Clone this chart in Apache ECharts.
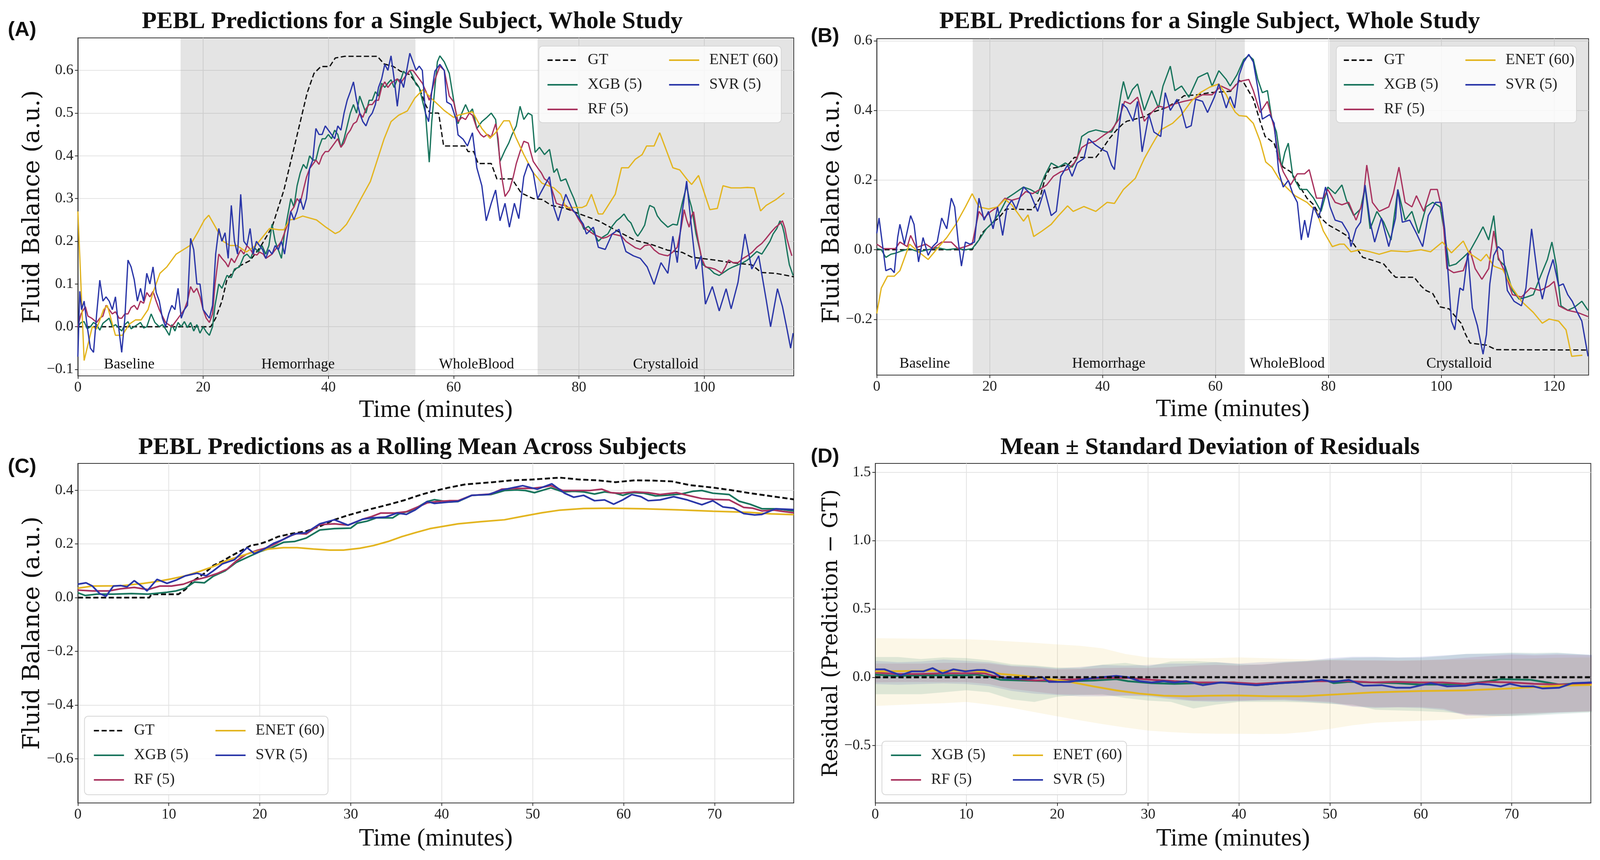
<!DOCTYPE html>
<html>
<head>
<meta charset="utf-8">
<title>PEBL predictions</title>
<script src="https://cdn.jsdelivr.net/npm/echarts@6/dist/echarts.min.js"></script>
<style>
  html, body { margin: 0; padding: 0; background: #fff; overflow: hidden; }
  #chart { width: 100vw; height: 100vh; }
</style>
</head>
<body>
<div id="chart"></div>
<script>
// ---------------- data ----------------
// (A) single subject, study 1
var aPhases = [['Baseline', 0, 16.4], ['Hemorrhage', 16.4, 53.9], ['WholeBlood', 53.9, 73.4], ['Crystalloid', 73.4, 114.3]];
var aXTicks = [0, 20, 40, 60, 80, 100];
var aYTicks = [-0.1, 0, 0.1, 0.2, 0.3, 0.4, 0.5, 0.6];
var aGt = [[0,0],[21.2,0],[22,0.02],[23,0.06],[23.8,0.11],[24.7,0.127],[25.5,0.14],[27.5,0.155],[29.1,0.186],[31,0.233],[32.9,0.32],[34.7,0.43],[36.6,0.547],[37.7,0.593],[38.8,0.609],[40.2,0.609],[41.1,0.629],[42.6,0.633],[47.8,0.633],[48.9,0.615],[50.4,0.609],[51.5,0.598],[53,0.59],[54.5,0.56],[55.5,0.52],[56.2,0.5],[57.6,0.5],[58.4,0.423],[61.8,0.423],[62.3,0.41],[63.2,0.41],[63.9,0.382],[66,0.382],[66.9,0.346],[69.3,0.346],[70.8,0.313],[72.7,0.3],[74.1,0.298],[75.6,0.284],[77.9,0.277],[80.1,0.264],[83.1,0.248],[86,0.225],[89,0.202],[91.3,0.194],[94.2,0.179],[96.5,0.174],[98,0.163],[101.7,0.156],[104.3,0.15],[107.6,0.145],[109.1,0.127],[111.4,0.125],[114.3,0.117]];
var aXgb = [[0,0],[0.5,0.01],[1,0.012],[1.5,-0.005],[2,0],[2.5,0.01],[3,0.005],[3.5,-0.008],[4,0.008],[5,0.02],[5.5,0],[6,0.005],[7,-0.01],[7.5,0.005],[8,0.012],[8.5,-0.005],[9,0],[10,0.01],[10.5,-0.003],[11,0],[11.7,0.03],[12.3,0.01],[13,0],[13.5,0.005],[14,-0.005],[14.6,-0.02],[15,0.005],[15.5,-0.01],[16,0.01],[16.5,0],[17,0.012],[17.5,-0.002],[18,0.01],[18.5,-0.01],[19,0.005],[19.5,-0.015],[20,0],[20.5,-0.012],[21,-0.02],[21.5,0],[21.9,0.05],[22.5,0.1],[23,0.09],[23.8,0.12],[24.5,0.115],[25,0.135],[25.8,0.14],[26.5,0.165],[27,0.17],[27.6,0.16],[28.2,0.185],[28.8,0.175],[29.4,0.19],[30,0.17],[30.5,0.19],[31,0.24],[31.5,0.2],[32,0.18],[32.5,0.16],[33,0.22],[33.5,0.26],[34,0.3],[34.5,0.28],[35,0.33],[35.5,0.36],[36,0.38],[36.5,0.37],[37,0.4],[37.5,0.39],[38,0.39],[38.5,0.42],[39,0.44],[39.5,0.44],[40,0.45],[40.5,0.44],[41,0.46],[41.5,0.45],[42,0.42],[42.5,0.44],[43,0.47],[43.5,0.5],[44,0.52],[44.5,0.5],[45,0.54],[45.5,0.52],[46,0.5],[46.5,0.53],[47,0.53],[47.5,0.55],[48,0.54],[48.5,0.57],[49,0.56],[49.5,0.57],[50,0.578],[50.5,0.56],[51,0.58],[51.5,0.575],[52,0.598],[52.5,0.59],[53,0.6],[53.5,0.585],[54,0.567],[54.5,0.56],[55,0.53],[55.5,0.5],[56.1,0.385],[56.5,0.48],[57,0.56],[57.4,0.62],[57.8,0.634],[58.5,0.62],[59.3,0.593],[60,0.53],[60.7,0.475],[61.3,0.5],[61.9,0.52],[62.5,0.5],[63,0.51],[63.7,0.464],[64.5,0.48],[65.3,0.49],[66,0.5],[66.7,0.485],[67.4,0.387],[68.2,0.413],[68.8,0.43],[69.3,0.449],[70,0.47],[70.6,0.516],[71.2,0.485],[71.9,0.5],[72.5,0.495],[73,0.408],[73.7,0.42],[74.5,0.403],[75.3,0.415],[76,0.361],[76.5,0.37],[77.1,0.341],[77.9,0.346],[78.6,0.32],[79.2,0.3],[79.7,0.279],[80.2,0.25],[80.8,0.228],[81.5,0.235],[82.3,0.222],[83.1,0.2],[83.8,0.21],[84.6,0.217],[85.3,0.235],[86,0.248],[86.6,0.255],[87.2,0.264],[87.8,0.25],[88.3,0.243],[89,0.22],[89.4,0.212],[90,0.225],[90.5,0.238],[91,0.27],[91.3,0.284],[92,0.279],[92.5,0.26],[93.1,0.248],[94.2,0.233],[95,0.24],[95.7,0.238],[96.5,0.29],[97.2,0.33],[97.6,0.3],[98,0.279],[98.7,0.217],[99.3,0.18],[99.8,0.145],[100.9,0.135],[101.6,0.125],[102.4,0.12],[103.2,0.128],[103.9,0.135],[104.6,0.14],[105.4,0.145],[106.2,0.15],[106.9,0.156],[107.6,0.165],[108.4,0.176],[109.2,0.17],[109.9,0.186],[110.5,0.2],[111,0.217],[111.6,0.23],[112.1,0.248],[112.5,0.235],[112.8,0.217],[113.3,0.17],[113.6,0.145],[114.2,0.12]];
var aRf = [[0,0],[0.5,0.03],[1.2,0.047],[1.6,0.025],[2.2,0.02],[3,0.01],[3.5,0.02],[4,0.025],[4.5,0.05],[5,0.04],[5.5,0.03],[6,0.035],[6.6,0.02],[7,0.02],[7.5,0.03],[8,0.03],[8.5,0.045],[9,0.05],[9.5,0.04],[10,0.06],[10.5,0.055],[11,0.08],[11.5,0.07],[12,0.083],[12.5,0.06],[13,0.04],[13.5,0.025],[14,0.01],[14.5,0.005],[15,0],[15.5,0.01],[16,0.02],[16.5,0.03],[17,0.04],[17.5,0.06],[18,0.094],[18.5,0.08],[19,0.09],[19.5,0.07],[20,0.04],[20.5,0.02],[21,0.01],[21.5,0.03],[21.9,0.1],[22.5,0.17],[23,0.16],[23.6,0.15],[24,0.14],[24.5,0.16],[25,0.15],[25.5,0.165],[26,0.18],[26.5,0.17],[27,0.19],[27.6,0.18],[28,0.17],[28.6,0.168],[29,0.175],[29.6,0.17],[30,0.16],[30.5,0.165],[31,0.17],[31.5,0.18],[32,0.19],[32.5,0.2],[33,0.22],[33.5,0.24],[34,0.27],[34.5,0.28],[35,0.3],[35.5,0.29],[36,0.32],[36.5,0.35],[37,0.37],[37.5,0.38],[38,0.39],[38.5,0.38],[39,0.4],[39.5,0.41],[40,0.41],[40.5,0.42],[41,0.43],[41.5,0.44],[42,0.42],[42.5,0.43],[43,0.45],[43.5,0.46],[44,0.475],[44.5,0.48],[45,0.5],[45.5,0.49],[46,0.51],[46.5,0.52],[47,0.52],[47.5,0.53],[48,0.53],[48.5,0.56],[49,0.573],[49.5,0.56],[50,0.57],[50.5,0.575],[51,0.58],[51.5,0.57],[52,0.58],[52.5,0.59],[53,0.6],[53.5,0.6],[54,0.59],[54.5,0.58],[55,0.57],[55.6,0.55],[56.1,0.53],[56.5,0.55],[57,0.578],[57.8,0.61],[58.5,0.6],[59.3,0.54],[60,0.526],[60.7,0.48],[61.3,0.49],[61.9,0.485],[62.5,0.5],[63,0.495],[63.7,0.464],[64.3,0.45],[64.8,0.444],[65.4,0.45],[66,0.444],[66.7,0.475],[67.1,0.44],[67.4,0.382],[67.8,0.34],[68.2,0.305],[68.9,0.32],[69.5,0.35],[70,0.382],[70.6,0.41],[71.2,0.434],[71.9,0.43],[72.7,0.387],[73.4,0.372],[74,0.36],[74.5,0.346],[75.1,0.34],[75.6,0.325],[76.4,0.289],[77.1,0.285],[77.9,0.284],[78.6,0.275],[79.3,0.269],[80,0.25],[80.8,0.233],[81.5,0.225],[82.3,0.217],[83,0.212],[83.8,0.207],[84.5,0.21],[85.3,0.217],[86,0.215],[86.8,0.212],[87.5,0.2],[88.3,0.192],[89,0.185],[89.8,0.181],[90.5,0.19],[91.3,0.192],[92,0.18],[92.8,0.171],[93.5,0.168],[94.2,0.166],[95,0.175],[95.7,0.186],[96.3,0.23],[96.8,0.274],[97.2,0.25],[97.6,0.233],[98,0.26],[98.3,0.269],[98.7,0.23],[99.1,0.197],[99.6,0.16],[100.2,0.14],[101,0.138],[101.7,0.135],[102.3,0.13],[102.8,0.125],[103.4,0.14],[103.9,0.156],[104.6,0.15],[105.4,0.15],[106.2,0.16],[106.9,0.166],[107.7,0.175],[108.4,0.186],[109.2,0.195],[109.9,0.207],[110.6,0.22],[111.4,0.233],[112,0.24],[112.5,0.248],[112.9,0.23],[113.2,0.207],[113.6,0.185],[114,0.166]];
var aEnet = [[0,0.27],[1,-0.079],[2.3,0],[3,-0.005],[4.1,0.04],[4.7,0.05],[6,-0.02],[7.1,-0.02],[8.2,0.006],[9.2,0.016],[10.1,0.016],[11.2,0.04],[12,0.08],[13.1,0.125],[14.2,0.14],[15.7,0.17],[16.8,0.18],[17.9,0.19],[19.1,0.22],[20.2,0.25],[20.9,0.261],[22.1,0.23],[23.2,0.2],[24.3,0.19],[25.4,0.19],[26.9,0.175],[28.4,0.19],[29.5,0.21],[30.6,0.23],[32.1,0.227],[32.9,0.227],[33.8,0.25],[34.7,0.252],[35.9,0.259],[38.1,0.25],[39.6,0.233],[41.1,0.218],[41.8,0.223],[42.9,0.24],[44.1,0.27],[45.2,0.3],[46.7,0.34],[47.8,0.39],[48.9,0.44],[50,0.48],[51.2,0.495],[52.6,0.505],[53.8,0.535],[55.1,0.555],[56.4,0.535],[57.5,0.52],[58.5,0.506],[60,0.49],[60.7,0.495],[63,0.503],[64.5,0.464],[65.8,0.441],[66.7,0.454],[68,0.482],[68.9,0.482],[69.9,0.444],[71.2,0.403],[72.7,0.361],[74.1,0.336],[76,0.325],[77.1,0.31],[77.9,0.279],[79,0.279],[80.5,0.279],[81.2,0.284],[82,0.31],[83.1,0.264],[83.8,0.264],[85.8,0.31],[86.8,0.372],[87.9,0.372],[89,0.392],[90.1,0.403],[90.8,0.423],[92,0.423],[92.9,0.454],[95,0.372],[96.1,0.367],[97.2,0.346],[98,0.333],[99.1,0.354],[100.9,0.274],[102.1,0.277],[103,0.33],[104.3,0.325],[105.8,0.325],[106.9,0.326],[108,0.325],[109,0.271],[109.9,0.284],[111.4,0.297],[112.8,0.313]];
var aSvr = [[0,-0.07],[0.3,0.083],[0.6,0.04],[1,0.06],[1.5,0],[2,-0.05],[2.5,-0.06],[3,0.03],[3.5,0.109],[4,0.06],[4.5,0.07],[5,0.06],[5.5,0.04],[6,0.07],[6.5,0],[7,-0.06],[7.5,0.02],[8,0.156],[8.5,0.14],[9,0.11],[9.5,0.06],[10,0.09],[10.5,0.06],[11,0.125],[11.5,0.1],[12,0.14],[12.5,0.08],[13,0.06],[13.5,0.02],[14,0],[14.5,0.03],[15,0.05],[15.5,0.04],[16,0.09],[16.5,0.02],[17,0.04],[17.5,0.05],[18,0.207],[18.5,0.18],[19,0.1],[19.5,0.1],[20,0.04],[20.5,0.03],[21,0.02],[21.5,0.05],[22,0.17],[22.5,0.23],[23,0.2],[23.5,0.22],[24,0.16],[24.5,0.284],[25,0.2],[25.5,0.17],[26,0.31],[26.5,0.2],[27,0.19],[27.5,0.23],[28,0.17],[28.5,0.2],[29,0.19],[29.5,0.18],[30,0.16],[30.5,0.18],[31,0.17],[31.5,0.19],[32,0.18],[32.5,0.2],[33,0.17],[33.5,0.22],[34,0.27],[34.5,0.25],[35,0.27],[35.5,0.3],[36,0.274],[36.5,0.3],[37,0.37],[37.5,0.39],[38,0.464],[38.5,0.45],[39,0.45],[39.5,0.47],[40,0.46],[40.5,0.45],[41,0.44],[41.5,0.47],[42,0.46],[42.5,0.5],[43,0.53],[43.5,0.55],[44,0.573],[44.5,0.53],[45,0.5],[45.5,0.48],[46,0.47],[46.5,0.49],[47,0.5],[47.5,0.52],[48,0.56],[48.5,0.58],[49,0.614],[49.5,0.6],[50,0.634],[50.5,0.58],[51,0.516],[51.5,0.58],[52,0.56],[52.5,0.6],[53,0.64],[53.5,0.62],[54,0.6],[54.5,0.61],[55,0.6],[55.5,0.5],[56,0.48],[56.5,0.55],[57,0.598],[57.8,0.614],[58.5,0.6],[58.9,0.526],[59.6,0.52],[60.4,0.485],[60.7,0.449],[61.5,0.439],[62.2,0.423],[63,0.454],[63.7,0.372],[64.5,0.33],[65.2,0.248],[66,0.289],[66.7,0.32],[67.4,0.248],[68.2,0.289],[68.9,0.233],[69.7,0.289],[70.4,0.253],[71.2,0.351],[71.9,0.382],[72.7,0.36],[73.4,0.3],[74.5,0.33],[75.3,0.351],[76,0.279],[76.7,0.248],[77.3,0.28],[77.9,0.31],[78.5,0.29],[79,0.274],[80.1,0.253],[80.7,0.24],[81.2,0.217],[82.3,0.233],[83.1,0.186],[84.2,0.181],[85.3,0.217],[86.4,0.228],[87.5,0.176],[88.7,0.166],[89.8,0.16],[90.9,0.14],[92,0.099],[93.1,0.15],[94.2,0.125],[95,0.212],[95.7,0.15],[96.5,0.269],[97.2,0.341],[98,0.228],[98.7,0.135],[99.5,0.166],[100.2,0.053],[101.3,0.094],[102.4,0.037],[103.5,0.089],[104.3,0.042],[105.4,0.104],[106.5,0.217],[107.6,0.135],[108.7,0.166],[109.9,0.063],[110.6,0],[111.7,0.089],[112.5,0.047],[113.2,-0.004],[113.8,-0.05],[114.2,-0.015]];

// (B) single subject, study 2
var bPhases = [['Baseline', 0, 17.0], ['Hemorrhage', 17.0, 65.2], ['WholeBlood', 65.2, 80.2], ['Crystalloid', 80.2, 126.1]];
var bXTicks = [0, 20, 40, 60, 80, 100, 120];
var bYTicks = [-0.2, 0, 0.2, 0.4, 0.6];
var bGt = [[0,0],[16.9,0],[17.5,0.015],[18.1,0.028],[18.6,0.047],[19.4,0.06],[20.6,0.079],[21.6,0.091],[22.9,0.117],[27.6,0.115],[28.9,0.148],[29.9,0.211],[30.7,0.233],[32.2,0.237],[34,0.246],[35,0.265],[38.8,0.265],[39.6,0.281],[41.2,0.319],[42.5,0.344],[43.5,0.36],[44.3,0.369],[47.4,0.382],[48.7,0.394],[51.1,0.407],[53.2,0.426],[54.4,0.442],[56.9,0.445],[59,0.451],[62.7,0.455],[64.2,0.486],[65,0.48],[66.7,0.433],[67.9,0.369],[68.8,0.325],[70.4,0.306],[71.2,0.262],[72,0.237],[73.3,0.224],[75,0.18],[76.2,0.148],[77.4,0.129],[78.7,0.091],[79.9,0.072],[82,0.053],[83.2,0.041],[84.5,0.016],[86.1,-0.022],[88.2,-0.032],[89.8,-0.041],[91.1,-0.066],[91.9,-0.079],[95.2,-0.079],[96.4,-0.104],[97.3,-0.117],[98.5,-0.126],[99.8,-0.164],[101.4,-0.17],[102.2,-0.186],[103.5,-0.211],[104.3,-0.243],[105.1,-0.268],[108,-0.274],[109.7,-0.287],[126.1,-0.288]];
var bXgb = [[0,0.003],[0.8,0],[1.6,-0.022],[2.5,-0.013],[3.3,-0.01],[4.5,-0.003],[5.8,0.003],[7.4,-0.006],[9.1,0],[10.7,0.006],[12.4,0],[14,0.003],[15.7,0],[16.9,0.003],[18.1,0.028],[19.4,0.06],[20.6,0.079],[21.9,0.11],[23.1,0.148],[24.3,0.161],[26,0.18],[27.2,0.173],[28.5,0.161],[29.7,0.211],[30.9,0.249],[32.2,0.237],[33.4,0.249],[34.6,0.237],[35.5,0.262],[36.3,0.325],[37.5,0.338],[38.8,0.344],[40.4,0.338],[41.6,0.338],[42.5,0.369],[43.3,0.451],[43.7,0.483],[44.5,0.432],[45.3,0.46],[46.2,0.476],[47.4,0.4],[48.7,0.457],[49.9,0.407],[50.7,0.47],[52,0.527],[52.8,0.457],[54,0.47],[55.3,0.438],[56.9,0.495],[58.6,0.508],[59.4,0.47],[60.6,0.514],[61.9,0.489],[62.6,0.47],[63.8,0.502],[65,0.546],[65.9,0.558],[66.7,0.546],[67.5,0.489],[68.3,0.451],[69.2,0.457],[70,0.375],[70.8,0.338],[71.7,0.237],[72.3,0.28],[72.9,0.306],[73.7,0.211],[75,0.173],[76.2,0.173],[77.4,0.148],[78.7,0.11],[79.9,0.18],[81.2,0.161],[82.4,0.186],[83.2,0.142],[84.5,0.098],[85.7,0.117],[86.5,0.18],[87.4,0.06],[88.6,0.11],[89.8,0.079],[91.1,0.028],[92.3,0.173],[93.6,0.085],[94.8,0.11],[96,0.047],[97.3,0.123],[98.5,0.136],[99.8,0.123],[100.6,0.047],[101.4,-0.047],[102.6,-0.041],[103.9,-0.022],[105.1,-0.003],[106.4,0.035],[107.4,0.066],[108.4,0.028],[109.3,0.098],[110.1,-0.028],[111.3,-0.047],[112.6,-0.117],[113.8,-0.142],[115.1,-0.136],[116.3,-0.129],[117.5,-0.079],[118.8,-0.028],[119.6,0.022],[120.4,-0.047],[121.2,-0.161],[122.4,-0.174],[123.6,-0.165],[124.9,-0.148],[126,-0.174]];
var bRf = [[0,0.016],[1.2,0.003],[3.3,0.003],[4.1,0.022],[5.4,0.009],[6,0.041],[7,0.006],[8.7,0.016],[9.9,0.003],[11.5,0.022],[13.2,0.022],[14.4,0.003],[15.7,0.009],[16.9,0.016],[18.1,0.11],[19,0.091],[20.2,0.11],[21.4,0.123],[22.7,0.148],[23.9,0.142],[25.2,0.148],[26.4,0.167],[27.6,0.161],[28.9,0.173],[30.1,0.186],[31.3,0.211],[32.6,0.224],[33.8,0.23],[35,0.249],[36.3,0.293],[37.5,0.306],[38.8,0.312],[40.4,0.331],[41.6,0.344],[42.9,0.375],[43.9,0.426],[44.9,0.419],[46.2,0.438],[47.4,0.369],[48.7,0.394],[49.9,0.413],[51.1,0.407],[52.8,0.419],[54.4,0.426],[56.1,0.432],[57.7,0.445],[59.4,0.445],[61,0.47],[62.7,0.457],[64.2,0.483],[65.9,0.489],[66.7,0.457],[67.9,0.394],[69.2,0.426],[70.4,0.35],[71.2,0.262],[72,0.224],[73.3,0.186],[74.5,0.218],[75.8,0.218],[76.6,0.23],[77.9,0.148],[79.1,0.148],[79.9,0.173],[81.2,0.136],[82.4,0.129],[83.6,0.136],[84.9,0.085],[86.1,0.136],[86.8,0.243],[87.8,0.136],[89,0.11],[90.7,0.123],[91.5,0.161],[92.5,0.237],[93.6,0.136],[94.8,0.123],[95.6,0.155],[96.9,0.11],[98.1,0.173],[99.3,0.173],[100.2,0.11],[101,-0.054],[102.2,-0.066],[103.9,-0.06],[105.1,-0.003],[106,-0.054],[107.2,-0.085],[108.4,-0.054],[109.3,0.054],[110.1,-0.022],[111.3,-0.066],[112.6,-0.129],[114.2,-0.136],[115.8,-0.11],[117.5,-0.117],[119.1,-0.104],[120,-0.091],[120.8,-0.161],[122.4,-0.174],[124.1,-0.18],[126,-0.192]];
var bEnet = [[0,-0.183],[0.8,-0.11],[1.9,-0.076],[3.1,-0.076],[4.1,-0.06],[5.8,0.016],[7.4,-0.006],[9.1,-0.028],[10.7,0.003],[12.4,0.035],[14,0.073],[15.7,0.123],[16.9,0.161],[18.1,0.123],[19.8,0.117],[21.4,0.123],[22.7,0.145],[23.9,0.129],[26,0.082],[26.8,0.1],[27.8,0.038],[29.3,0.054],[30.9,0.073],[32.2,0.098],[33.8,0.126],[34.8,0.11],[36.7,0.124],[38.8,0.11],[40.8,0.136],[42.1,0.133],[43.7,0.173],[45.8,0.205],[47.4,0.262],[48.7,0.3],[50.3,0.344],[52.4,0.363],[54,0.388],[55.7,0.426],[57.3,0.451],[59,0.467],[60.6,0.476],[61.9,0.445],[62.6,0.42],[63.5,0.395],[64.2,0.385],[65.5,0.383],[66.7,0.363],[67.9,0.312],[68.9,0.252],[70,0.237],[71.2,0.205],[72.5,0.18],[74.1,0.155],[76.2,0.136],[77.9,0.11],[79.1,0.054],[80.7,0.009],[82,0.016],[82.8,0.016],[84,-0.006],[85.7,0],[87.4,-0.006],[89,-0.013],[91.1,-0.003],[93.9,-0.006],[96.4,0],[98.1,-0.006],[100.2,0.022],[101.8,-0.009],[103.9,0.025],[104.9,-0.009],[107,-0.032],[108,-0.013],[109.3,-0.047],[110.9,-0.057],[112.6,-0.11],[114.2,-0.148],[116.3,-0.18],[117.9,-0.211],[119.1,-0.199],[120.8,-0.205],[122.1,-0.23],[123.1,-0.306],[125,-0.303]];
var bSvr = [[0,0.047],[0.4,0.091],[1,0.016],[1.6,-0.06],[2.5,-0.054],[3.1,-0.066],[3.7,0.035],[4.1,0.073],[4.9,0.016],[6,0.098],[6.6,0.073],[7.4,-0.035],[8.2,0.035],[9.1,-0.016],[9.9,0.009],[10.7,0.022],[11.5,0.091],[12.4,0.06],[13.2,0.148],[13.8,0.123],[14.4,0.028],[15,-0.047],[15.7,0.022],[16.5,0.016],[17.3,0.022],[18.1,0.148],[19,0.085],[19.8,0.11],[20.6,0.06],[21.4,0.123],[22.3,0.041],[23.1,0.123],[23.9,0.142],[24.7,0.117],[26,0.18],[27.2,0.161],[28.5,0.11],[29.7,0.173],[30.9,0.098],[31.8,0.11],[32.6,0.211],[33.8,0.243],[34.6,0.211],[35.5,0.249],[36.7,0.262],[37.5,0.319],[38.8,0.3],[40,0.287],[40.8,0.281],[41.6,0.243],[42.1,0.23],[42.9,0.35],[43.5,0.419],[44.3,0.407],[45.4,0.369],[46.2,0.426],[47,0.281],[48.2,0.388],[49.1,0.338],[50.3,0.325],[51.1,0.451],[52,0.4],[53.2,0.432],[54,0.4],[54.8,0.35],[55.7,0.356],[56.5,0.432],[57.7,0.426],[58.6,0.394],[59.8,0.438],[60.6,0.476],[61.9,0.407],[62.6,0.44],[63.4,0.407],[64.2,0.502],[65,0.539],[65.9,0.561],[66.7,0.539],[67.5,0.464],[68.3,0.375],[69.6,0.388],[70.4,0.363],[71.2,0.224],[72,0.18],[72.9,0.199],[73.7,0.161],[74.5,0.136],[75.2,0.028],[75.8,0.085],[76.4,0.035],[77.4,0.123],[78.3,0.091],[79.5,0.18],[80.3,0.123],[81.2,0.085],[82.4,0.079],[83.6,0.047],[84,0.009],[84.9,0.06],[85.7,0.079],[86.5,0.186],[87.4,0.079],[88.2,0.022],[89.4,0.091],[90.7,0.009],[91.9,0.091],[92.3,0.173],[93.1,0.079],[94.4,0.085],[95.6,0.047],[96.7,0.009],[97.7,0.098],[99,0.136],[100,0.136],[100.6,0.06],[101.2,-0.066],[101.8,-0.205],[102.4,-0.23],[103.3,-0.11],[103.9,-0.117],[104.7,-0.009],[105.5,-0.167],[106.4,-0.218],[107.4,-0.3],[108,-0.243],[108.6,-0.098],[109.3,-0.016],[110.1,0.009],[110.9,-0.003],[111.7,-0.117],[112.9,-0.148],[114.2,-0.161],[115,-0.11],[116,0.06],[117.1,-0.079],[117.9,-0.142],[118.8,-0.079],[119.8,-0.028],[120.8,-0.104],[121.6,-0.098],[122.4,-0.129],[123.2,-0.148],[124.1,-0.18],[124.9,-0.205],[126,-0.306]];

// (C) rolling mean across subjects
var cXTicks = [0, 10, 20, 30, 40, 50, 60, 70];
var cYTicks = [-0.6, -0.4, -0.2, 0, 0.2, 0.4];
var cGt = [[0,0],[7.85,0],[8.1,0.0126],[11.05,0.0126],[11.8,0.03],[12.8,0.065],[13.9,0.09],[14.9,0.12],[15.9,0.136],[16.9,0.156],[18,0.176],[19,0.194],[20,0.2],[21,0.212],[22,0.227],[23.6,0.239],[25.1,0.247],[26.7,0.267],[28.2,0.29],[29.7,0.307],[31.3,0.322],[32.8,0.335],[34.3,0.348],[35.9,0.363],[37.4,0.38],[38.9,0.395],[40.8,0.41],[42.6,0.422],[45.6,0.43],[47.7,0.437],[50,0.44],[53,0.447],[55.1,0.44],[57.1,0.437],[59.1,0.43],[61.2,0.437],[63.2,0.436],[65.3,0.433],[67.3,0.419],[69.8,0.41],[71.9,0.4],[73.9,0.389],[76,0.379],[78.7,0.366]];
var cXgb = [[0,0.018],[0.8,0.008],[2.1,0.013],[3.9,0.013],[5.9,0.015],[7.7,0.013],[9.8,0.02],[10.8,0.025],[11.8,0.035],[12.8,0.058],[13.9,0.055],[14.9,0.08],[16.2,0.1],[17.4,0.131],[19,0.156],[20,0.171],[21.3,0.186],[22.6,0.206],[23.8,0.209],[25.1,0.222],[26.6,0.252],[28.2,0.257],[30,0.259],[30.7,0.277],[31.8,0.285],[32.8,0.297],[34.6,0.297],[35.3,0.312],[36.4,0.322],[37.4,0.338],[38.4,0.358],[39.2,0.365],[40.8,0.356],[41.8,0.358],[43.3,0.381],[45.4,0.384],[46.9,0.399],[48.2,0.401],[49.2,0.399],[50.2,0.391],[51.2,0.401],[52,0.409],[53.3,0.394],[54.5,0.396],[55.6,0.394],[56.8,0.386],[57.9,0.394],[59.1,0.389],[59.9,0.381],[60.9,0.391],[62.2,0.389],[63.5,0.379],[64.7,0.381],[66.3,0.386],[67.6,0.396],[68.6,0.399],[69.8,0.389],[71.6,0.384],[72.7,0.359],[73.9,0.348],[75.2,0.331],[76.5,0.331],[77.5,0.328],[78.7,0.323]];
var cRf = [[0,0.028],[1.6,0.025],[3.4,0.025],[4.7,0.033],[6.2,0.038],[7.7,0.03],[9,0.043],[10.3,0.043],[11.6,0.05],[12.8,0.065],[14.1,0.076],[15.4,0.091],[16.4,0.106],[17.4,0.136],[18.5,0.161],[19.7,0.176],[20.8,0.186],[21.8,0.202],[23.1,0.227],[24.1,0.239],[25.1,0.237],[26.6,0.272],[28.2,0.275],[29.7,0.27],[31.3,0.292],[32.3,0.302],[33.3,0.315],[34.8,0.315],[36.1,0.32],[37.4,0.338],[38.4,0.353],[39.4,0.358],[40.8,0.361],[41.8,0.361],[43.3,0.381],[45.4,0.386],[46.6,0.404],[48.4,0.407],[49.9,0.407],[51.2,0.412],[52,0.417],[53.3,0.399],[55,0.399],[56.3,0.399],[57.6,0.404],[58.6,0.391],[59.6,0.389],[61.2,0.394],[62.7,0.391],[64,0.384],[65.8,0.391],[67.3,0.379],[68.6,0.369],[69.8,0.366],[71.6,0.364],[73.2,0.336],[74.2,0.333],[75.2,0.323],[76.5,0.326],[77.5,0.321],[78.7,0.316]];
var cEnet = [[0,0.035],[1.6,0.043],[4.7,0.044],[7.2,0.053],[8.7,0.06],[10.3,0.07],[11.8,0.081],[13.4,0.098],[14.9,0.116],[16.4,0.139],[18,0.156],[19.5,0.171],[21,0.181],[22.6,0.186],[24.1,0.186],[25.9,0.181],[27.7,0.177],[29.2,0.177],[31,0.184],[32.5,0.194],[34.1,0.209],[35.6,0.227],[37.1,0.242],[38.7,0.257],[41.8,0.275],[44.3,0.283],[46.9,0.29],[48.9,0.303],[51,0.316],[53,0.326],[55.6,0.332],[58.6,0.333],[62.2,0.331],[66,0.327],[69.8,0.322],[73.7,0.318],[76.2,0.312],[78.7,0.309]];
var cSvr = [[0,0.05],[0.9,0.055],[1.6,0.043],[2.4,0.015],[3.1,0.005],[3.9,0.043],[4.7,0.045],[5.4,0.04],[6.2,0.063],[7,0.043],[7.6,0.025],[8.7,0.068],[9.8,0.053],[10.8,0.065],[11.8,0.081],[13.1,0.091],[14.1,0.081],[14.9,0.1],[15.9,0.126],[17.2,0.141],[18.6,0.186],[19.4,0.164],[20.5,0.181],[21.5,0.202],[22.6,0.217],[23.8,0.237],[25.1,0.242],[26.6,0.275],[28.2,0.29],[29.7,0.27],[31.3,0.292],[32.3,0.297],[33.8,0.3],[35.1,0.315],[36.1,0.31],[37.1,0.327],[38.4,0.358],[39.2,0.351],[40.8,0.356],[41.8,0.359],[43.3,0.381],[45.1,0.384],[46.6,0.401],[48.9,0.417],[50.5,0.404],[52.1,0.424],[53.5,0.389],[54.5,0.374],[55.6,0.381],[56.8,0.361],[57.9,0.364],[58.9,0.348],[59.9,0.364],[60.9,0.384],[61.9,0.376],[62.7,0.361],[64,0.364],[65.5,0.376],[67,0.364],[68.6,0.346],[69.8,0.361],[70.9,0.338],[72.1,0.333],[73.2,0.313],[74.4,0.308],[75.2,0.31],[76.7,0.331],[78.7,0.328]];

// (D) residual mean and +/- one standard deviation
var dXTicks = [0, 10, 20, 30, 40, 50, 60, 70];
var dYTicks = [-0.5, 0, 0.5, 1.0, 1.5];
var dGt = [[0,0],[78.8,0]];
var dXgb = [[0,0.019],[2.3,0.01],[4.8,0.014],[7.4,0.014],[9.9,0.014],[11.2,0.019],[12.5,0.005],[13.8,-0.019],[16.3,-0.024],[18.9,-0.029],[21.4,-0.029],[24,-0.024],[26.5,-0.014],[27.8,-0.029],[30.4,-0.043],[32.9,-0.048],[35.5,-0.043],[39.4,-0.038],[41.9,-0.058],[44.5,-0.043],[47,-0.034],[49.6,-0.024],[50.4,-0.043],[52.1,-0.034],[54.7,-0.038],[57.3,-0.043],[59.8,-0.053],[62.4,-0.053],[64.9,-0.048],[67.5,-0.029],[68.8,-0.014],[72.1,-0.019],[73.9,-0.038],[75.2,-0.053],[78.8,-0.038]];
var dRf = [[0,0.034],[2.3,0.024],[4.8,0.024],[7.4,0.029],[9.9,0.029],[12,0.029],[13,0.01],[15,-0.01],[17.6,-0.024],[20.2,-0.019],[22.7,-0.014],[25.3,-0.005],[27.8,-0.005],[30.4,-0.019],[32.9,-0.029],[35.5,-0.038],[39.4,-0.038],[41.9,-0.048],[44.5,-0.038],[47,-0.029],[52.1,-0.029],[54.7,-0.038],[57.3,-0.034],[59.8,-0.038],[62.4,-0.038],[64.9,-0.048],[67.5,-0.034],[70,-0.038],[72.4,-0.048],[75.2,-0.053],[78.8,-0.048]];
var dEnet = [[0,0.043],[4.8,0.046],[9.9,0.048],[12.5,0.038],[13.8,0.024],[16.3,0.01],[18.9,-0.01],[21.4,-0.034],[24,-0.067],[26.5,-0.096],[29.1,-0.12],[31.7,-0.135],[34.2,-0.139],[36.8,-0.135],[39.8,-0.133],[43.2,-0.139],[47,-0.139],[50.9,-0.125],[54.7,-0.111],[59.8,-0.101],[64.9,-0.096],[70,-0.082],[75.2,-0.062],[78.8,-0.056]];
var dSvr = [[0,0.058],[1,0.058],[2.8,0.014],[4,0.043],[5.3,0.043],[6.3,0.067],[7.4,0.029],[8.6,0.058],[9.9,0.043],[11.2,0.053],[12,0.053],[13,0.034],[14,-0.005],[15.6,-0.01],[17.1,-0.01],[18.4,0],[19.1,-0.034],[21.4,-0.034],[22.7,-0.019],[24,-0.005],[26.5,0.01],[27.8,0],[29.1,-0.029],[30.4,-0.038],[31.7,-0.029],[32.9,-0.038],[34.2,-0.029],[36,-0.058],[38,-0.038],[39.8,-0.048],[41.9,-0.058],[44.5,-0.043],[47,-0.034],[49.1,-0.019],[50.4,-0.034],[52.1,-0.019],[53.7,-0.062],[55.7,-0.058],[57.3,-0.077],[58.8,-0.077],[61.1,-0.043],[62.9,-0.067],[64.9,-0.062],[66.2,-0.048],[67.5,-0.053],[68.8,-0.067],[69.8,-0.048],[71.1,-0.067],[72.4,-0.067],[73.4,-0.082],[75.2,-0.077],[76.7,-0.043],[78.8,-0.038]];
var dBandT = [0,2.5,5,7.5,10,12.5,15,17.5,20,22.5,25,27.5,30,32.5,35,37.5,40,42.5,45,47.5,50,52.5,55,57.5,60,62.5,65,67.5,70,72.5,75,78.8];
var dEnetUp = [0.286,0.284,0.282,0.28,0.278,0.272,0.262,0.252,0.24,0.23,0.212,0.17,0.145,0.138,0.137,0.14,0.145,0.14,0.135,0.13,0.128,0.125,0.123,0.123,0.125,0.127,0.13,0.132,0.135,0.138,0.142,0.145];
var dEnetLo = [-0.21,-0.203,-0.196,-0.19,-0.181,-0.2,-0.224,-0.255,-0.286,-0.315,-0.343,-0.368,-0.39,-0.402,-0.41,-0.413,-0.414,-0.415,-0.414,-0.4,-0.378,-0.352,-0.332,-0.325,-0.319,-0.312,-0.305,-0.294,-0.281,-0.27,-0.258,-0.252];
var dXgbUp = [0.148,0.148,0.133,0.145,0.14,0.124,0.095,0.086,0.071,0.067,0.092,0.105,0.08,0.115,0.119,0.11,0.095,0.09,0.11,0.119,0.13,0.143,0.145,0.143,0.143,0.155,0.171,0.176,0.181,0.178,0.181,0.162];
var dXgbLo = [-0.124,-0.124,-0.124,-0.11,-0.095,-0.11,-0.162,-0.181,-0.143,-0.13,-0.124,-0.152,-0.171,-0.18,-0.229,-0.2,-0.181,-0.181,-0.181,-0.185,-0.195,-0.2,-0.238,-0.243,-0.248,-0.255,-0.267,-0.28,-0.286,-0.28,-0.27,-0.257];
var dRfUp = [0.1,0.1,0.1,0.105,0.105,0.1,0.08,0.07,0.057,0.06,0.067,0.07,0.067,0.075,0.086,0.09,0.086,0.095,0.105,0.115,0.124,0.122,0.124,0.12,0.124,0.13,0.143,0.155,0.165,0.16,0.165,0.16];
var dRfLo = [-0.038,-0.036,-0.035,-0.036,-0.036,-0.05,-0.086,-0.105,-0.124,-0.128,-0.133,-0.133,-0.133,-0.15,-0.171,-0.171,-0.171,-0.165,-0.162,-0.172,-0.181,-0.21,-0.219,-0.219,-0.219,-0.23,-0.276,-0.27,-0.267,-0.26,-0.255,-0.248];
var dSvrUp = [0.12,0.11,0.115,0.13,0.12,0.11,0.085,0.08,0.065,0.075,0.09,0.085,0.09,0.1,0.1,0.11,0.1,0.11,0.115,0.12,0.14,0.15,0.15,0.145,0.15,0.16,0.17,0.17,0.175,0.17,0.175,0.165];
var dSvrLo = [-0.05,-0.055,-0.05,-0.045,-0.05,-0.065,-0.1,-0.12,-0.13,-0.14,-0.14,-0.135,-0.14,-0.16,-0.175,-0.18,-0.175,-0.17,-0.17,-0.18,-0.19,-0.215,-0.225,-0.22,-0.225,-0.24,-0.28,-0.285,-0.28,-0.27,-0.26,-0.25];

// ---------------- styling ----------------
var FONT = 'Liberation Serif';
var NAME_FONT = 'DejaVu Serif';
var COL = { gt: '#111111', xgb: '#18745c', rf: '#a8325e', enet: '#e3b520', svr: '#2a36a8' };
var BAND = { xgb: 'rgba(24,116,92,0.13)', rf: 'rgba(168,50,94,0.13)', enet: 'rgba(227,181,32,0.11)', svr: 'rgba(42,54,168,0.13)' };
var SHADE = 'rgba(128,128,128,0.21)';
var NAMES = { gt: 'GT', xgb: 'XGB (5)', rf: 'RF (5)', enet: 'ENET (60)', svr: 'SVR (5)' };

// layout was measured on a 4356 x 2201 canvas; scale it to the real window
var el = document.getElementById('chart');
var W = el.clientWidth || window.innerWidth, H = el.clientHeight || window.innerHeight;
var sx = W / 4356, sy = H / 2201, sf = Math.min(sx, sy);
function X(v) { return v * sx; }
function Y(v) { return v * sy; }
function F(v) { return v * sf; }

var chart = echarts.init(el, null, { renderer: 'canvas' });

function fmtY(v) { return v.toFixed(1).replace('-', '\u2212'); }
function fmtX(v) { return String(v); }

function xAxis(i, max, ticks, gap) {
  return {
    type: 'value', gridIndex: i, min: 0, max: max,
    name: 'Time (minutes)', nameLocation: 'middle', nameGap: Y(gap),
    nameTextStyle: { fontFamily: FONT, fontSize: F(68), color: '#111' },
    axisLine: { show: true, onZero: false, lineStyle: { color: '#333', width: 2 } },
    axisTick: { show: true, length: F(8), customValues: ticks, lineStyle: { color: '#333', width: 2 } },
    axisLabel: { customValues: ticks, formatter: fmtX, fontFamily: FONT, fontSize: F(40), color: '#222', margin: F(12) },
    splitLine: { show: true, lineStyle: { color: '#e3e3e3', width: 2 } }
  };
}
// the rotated y-axis title runs along the vertical, so its size follows the height scale
function yAxis(i, min, max, ticks, name, nameSize, gap) {
  return {
    type: 'value', gridIndex: i, min: min, max: max,
    name: name, nameLocation: 'middle', nameGap: X(gap),
    nameTextStyle: { fontFamily: NAME_FONT, fontSize: nameSize * sy, color: '#111' },
    axisLine: { show: true, onZero: false, lineStyle: { color: '#333', width: 2 } },
    axisTick: { show: true, length: F(8), customValues: ticks, lineStyle: { color: '#333', width: 2 } },
    axisLabel: { customValues: ticks, formatter: fmtY, fontFamily: FONT, fontSize: F(40), color: '#222', margin: F(12) },
    splitLine: { show: true, lineStyle: { color: '#e3e3e3', width: 2 } }
  };
}

function phaseArea(phases) {
  return {
    silent: true,
    label: { show: true, position: 'insideBottom', distance: F(10), fontFamily: FONT, fontSize: F(40), color: '#111' },
    data: phases.map(function (p, i) {
      return [
        { name: p[0], xAxis: p[1], itemStyle: { color: i % 2 === 1 ? SHADE : 'rgba(0,0,0,0)' } },
        { xAxis: p[2] }
      ];
    })
  };
}

function line(idx, key, data, width, extra) {
  var s = {
    type: 'line', name: NAMES[key], xAxisIndex: idx, yAxisIndex: idx,
    data: data, symbol: 'none', showSymbol: false, z: 3,
    lineStyle: { color: COL[key], width: F(width), type: key === 'gt' ? [F(14), F(7)] : 'solid' },
    itemStyle: { color: COL[key] },
    emphasis: { disabled: true }
  };
  if (extra) for (var k in extra) s[k] = extra[k];
  return s;
}

// +/- SD band as one polygon, placed through the grid's own coordinate system
function band(key, lo, up) {
  return {
    type: 'custom', name: key + ' band', xAxisIndex: 3, yAxisIndex: 3, z: 1, silent: true,
    data: dBandT.map(function (t, i) { return [t, lo[i], up[i]]; }),
    encode: { x: 0, y: [1, 2] },
    renderItem: function (params, api) {
      if (params.dataIndex !== 0) return null;
      var top = [], bot = [];
      for (var j = 0; j < dBandT.length; j++) {
        top.push(api.coord([api.value(0, j), api.value(2, j)]));
        bot.unshift(api.coord([api.value(0, j), api.value(1, j)]));
      }
      return { type: 'polygon', shape: { points: top.concat(bot) }, style: { fill: BAND[key] } };
    }
  };
}

var series = [];
[[0, aGt, aXgb, aRf, aEnet, aSvr, aPhases], [1, bGt, bXgb, bRf, bEnet, bSvr, bPhases]].forEach(function (p) {
  series.push(line(p[0], 'gt', p[1], 3.5, { markArea: phaseArea(p[6]) }));
  series.push(line(p[0], 'xgb', p[2], 3.5));
  series.push(line(p[0], 'rf', p[3], 3.5));
  series.push(line(p[0], 'enet', p[4], 3.5));
  series.push(line(p[0], 'svr', p[5], 3.5));
});
series.push(line(2, 'gt', cGt, 5));
series.push(line(2, 'xgb', cXgb, 4.5));
series.push(line(2, 'rf', cRf, 4.5));
series.push(line(2, 'enet', cEnet, 4.5));
series.push(line(2, 'svr', cSvr, 4.5));
series.push(band('enet', dEnetLo, dEnetUp));
series.push(band('xgb', dXgbLo, dXgbUp));
series.push(band('rf', dRfLo, dRfUp));
series.push(band('svr', dSvrLo, dSvrUp));
series.push(line(3, 'xgb', dXgb, 5));
series.push(line(3, 'rf', dRf, 5));
series.push(line(3, 'enet', dEnet, 5));
series.push(line(3, 'svr', dSvr, 5));
series.push(line(3, 'gt', dGt, 6, { name: 'GT residual', z: 4 }));

function legend(names, left, top) {
  return {
    data: names, orient: 'vertical', left: X(left), top: Y(top), z: 12,
    itemWidth: X(82), itemHeight: F(20), itemGap: Y(15), selectedMode: false,
    itemStyle: { opacity: 0 },
    lineStyle: { width: F(4.5) },
    textStyle: { fontFamily: FONT, fontSize: F(42), lineHeight: Y(48), color: '#222', padding: [0, 0, 0, X(22)] }
  };
}
function legendBox(x, y, w, h) {
  return {
    type: 'rect', z: 11, silent: true,
    shape: { x: X(x), y: Y(y), width: X(w), height: Y(h), r: F(10) },
    style: { fill: 'rgba(255,255,255,0.82)', stroke: '#d6d6d6', lineWidth: 2 }
  };
}
var col1 = [NAMES.gt, NAMES.xgb, NAMES.rf];
var col2 = [NAMES.enet, NAMES.svr];

function title(text, cx, top) {
  return { text: text, left: X(cx), top: Y(top), textAlign: 'center',
    textStyle: { fontFamily: FONT, fontSize: F(66), fontWeight: 'bold', color: '#111' } };
}
function letter(ch, left, top) {
  return { text: '{p|(}{b|' + ch + '}{p|)}', left: X(left), top: Y(top),
    textStyle: { rich: {
      p: { fontFamily: 'Liberation Sans', fontSize: F(56), color: '#111' },
      b: { fontFamily: 'Liberation Sans', fontSize: F(56), fontWeight: 'bold', color: '#111' } } } };
}
function grid(l, t, w, h) {
  return { left: X(l), top: Y(t), width: X(w), height: Y(h), show: true, borderColor: '#333', borderWidth: 2 };
}

var option = {
  animation: false,
  backgroundColor: '#fff',
  textStyle: { fontFamily: FONT },
  title: [
    title('PEBL Predictions for a Single Subject, Whole Study', 1117, 20),
    title('PEBL Predictions for a Single Subject, Whole Study', 3288, 20),
    title('PEBL Predictions as a Rolling Mean Across Subjects', 1117, 1110),
    title('Mean \u00b1 Standard Deviation of Residuals', 3289, 1110),
    letter('A', 16, 46), letter('B', 2202, 62), letter('C', 16, 1164), letter('D', 2202, 1138)
  ],
  grid: [grid(212, 97, 1949, 865), grid(2387, 99, 1938, 861), grid(212, 1186, 1949, 869), grid(2383, 1186, 1948, 869)],
  xAxis: [
    xAxis(0, 114.3, aXTicks, 56),
    xAxis(1, 126.1, bXTicks, 56),
    xAxis(2, 78.7, cXTicks, 60),
    xAxis(3, 78.7, dXTicks, 60)
  ],
  yAxis: [
    yAxis(0, -0.115, 0.676, aYTicks, 'Fluid Balance (a.u.)', 60, 90),
    yAxis(1, -0.36, 0.606, bYTicks, 'Fluid Balance (a.u.)', 60, 82),
    yAxis(2, -0.765, 0.5, cYTicks, 'Fluid Balance (a.u.)', 60, 90),
    yAxis(3, -0.92, 1.565, dYTicks, 'Residual (Prediction \u2212 GT)', 54, 90)
  ],
  legend: [
    legend(col1, 1483, 125), legend(col2, 1814, 125),
    legend(col1, 3651, 125), legend(col2, 3982, 125),
    legend(col1, 248, 1841), legend(col2, 579, 1841),
    legend([NAMES.xgb, NAMES.rf], 2418, 1904), legend([NAMES.enet, NAMES.svr], 2750, 1904)
  ],
  graphic: [
    legendBox(1467, 118, 660, 196),
    legendBox(3638, 118, 654, 196),
    legendBox(230, 1833, 663, 201),
    legendBox(2401, 1897, 666, 137)
  ],
  series: series
};

chart.setOption(option);
</script>
</body>
</html>
